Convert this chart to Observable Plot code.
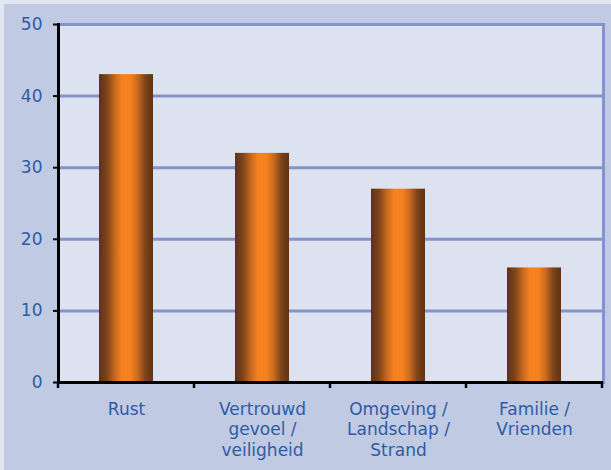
<!DOCTYPE html>
<html>
<head>
<meta charset="utf-8">
<script src="https://cdn.jsdelivr.net/npm/d3@7"></script>
<script src="https://cdn.jsdelivr.net/npm/@observablehq/plot@0.6"></script>
<style>
  html, body { margin: 0; padding: 0; background: #e2e6f1; }
  #wrap { position: absolute; left: 4px; top: 4px; width: 607px; height: 466px; background: #c0cae2; }
  svg { display: block; }
  g[aria-label="y-axis tick label"] text, g[aria-label="x-axis tick label"] text { fill: #2f5ba6; }
</style>
</head>
<body>
<div id="wrap"></div>
<script>
const categories = ["Rust", "Vertrouwd\ngevoel /\nveiligheid", "Omgeving /\nLandschap /\nStrand", "Familie /\nVrienden"];
const values = [43, 32, 27, 16];
const yTicks = [0, 10, 20, 30, 40, 50];
const gridTicks = [10, 20, 30, 40, 50];

const data = categories.map((c, i) => ({category: c, value: values[i]}));

const chart = Plot.plot({
  width: 607,
  height: 466,
  marginLeft: 54,
  marginTop: 20,
  marginRight: 8,
  marginBottom: 88,
  style: {fontFamily: "'DejaVu Sans', Verdana, sans-serif", fontSize: "17px", background: "transparent", overflow: "visible"},
  x: {domain: categories, paddingInner: 0.6, paddingOuter: 0.3, label: null},
  y: {domain: [0, 50], label: null},
  marks: [
    Plot.frame({fill: "#dce2f0", stroke: null}),
    Plot.ruleY(gridTicks, {stroke: "#8493c9", strokeWidth: 3}),
    Plot.frame({anchor: "right", stroke: "#8493c9", strokeWidth: 3}),
    Plot.barY(data, {x: "category", y: "value", fill: "url(#barGrad)"}),
    Plot.axisY({ticks: yTicks, tickSize: 5, tickPadding: 11, stroke: "black", strokeWidth: 2, fontSize: 17}),
    Plot.axisX({tickSize: 0, tickPadding: 18, fontSize: 17, lineHeight: 1.2}),
    Plot.ruleY([0], {stroke: "black", strokeWidth: 3}),
    Plot.frame({anchor: "left", stroke: "black", strokeWidth: 3})
  ]
});

// gradient definition for the bars
const svg = d3.select(chart);
const defs = svg.insert("defs", ":first-child");
const grad = defs.append("linearGradient").attr("id", "barGrad").attr("x1", 0).attr("x2", 1).attr("y1", 0).attr("y2", 0);
const stops = [
  [0, "#5c3315"], [0.14, "#7c4319"], [0.3, "#c7691f"], [0.42, "#f5821f"],
  [0.58, "#f5821f"], [0.72, "#c7691f"], [0.86, "#7c4319"], [1, "#5c3315"]
];
stops.forEach(([o, c]) => grad.append("stop").attr("offset", o).attr("stop-color", c));

// category boundary tick marks on the x axis, from the library's scales
const xs = chart.scale("x");
const ys = chart.scale("y");
const step = xs.step ?? (xs.bandwidth / 0.4);
const y0 = ys.apply(0);
const bounds = categories.map(c => xs.apply(c) - (step - xs.bandwidth) / 2);
bounds.push(bounds[bounds.length - 1] + step);
const tg = svg.append("g").attr("stroke", "black").attr("stroke-width", 2.5);
bounds.forEach(bx => tg.append("line").attr("x1", bx).attr("x2", bx).attr("y1", y0).attr("y2", y0 + 6));

document.getElementById("wrap").appendChild(chart);
</script>
</body>
</html>
